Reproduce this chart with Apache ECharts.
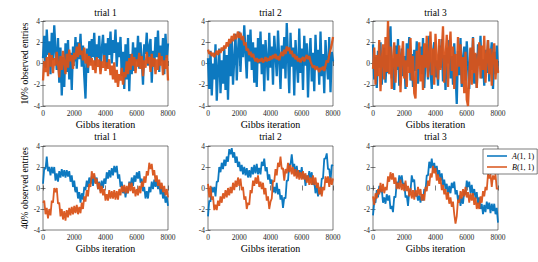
<!DOCTYPE html>
<html><head><meta charset="utf-8">
<script src="https://cdn.jsdelivr.net/npm/echarts/dist/echarts.min.js"></script>
<style>html,body{margin:0;padding:0;background:#fff}#c{width:538px;height:262px}</style>
</head><body><div id="c"></div>
<script>
// ---- data (one sample every STEP Gibbs iterations) ----
const STEP = 80;
const xTicks = [0, 2000, 4000, 6000, 8000];
const yTicks = [-4, -2, 0, 2, 4];
const rowLabels = ['10% observed entries', '40% observed entries'];
const trialTitles = ['trial 1', 'trial 2', 'trial 3'];
const xAxisTitle = 'Gibbs iteration';
const legendNames = ['A(1, 1)', 'B(1, 1)'];

const p10t1A = [0.5,2.6,-0.4,3.2,0.8,2.1,-1.0,2.9,0.3,3.6,1.2,-0.6,2.4,
 -1.8,1.5,-3.0,0.6,-2.2,1.9,-0.8,2.2,-1.5,1.0,-2.5,1.6,0.2,
 2.5,-0.5,2.0,0.4,2.8,-0.3,1.7,-1.2,-3.3,1.4,-0.9,2.1,0.1,
 2.3,0.6,2.9,-0.2,1.8,0.5,2.6,-0.6,1.3,2.7,0.2,1.9,-0.4,
 2.4,0.8,3.0,0.0,2.2,1.0,3.2,-0.3,2.0,0.6,2.5,-1.2,1.1,
 -2.4,1.8,-1.5,2.4,-2.6,0.9,-1.0,2.0,-0.7,1.5,0.2,2.6,-0.5,
 2.0,0.4,-2.0,1.8,0.9,2.9,-0.2,1.6,2.3,-1.8,1.2,-0.3,2.5,
 0.6,3.1,-0.8,1.7,0.2,2.4,-1.0,2.8,0.5,1.9];
const p10t1B = [-1.6,0.2,-0.8,0.6,-1.2,1.0,-0.3,0.8,-0.9,0.5,-0.2,1.1,0.0,
 -1.3,0.7,-0.6,1.2,0.1,-1.0,0.9,-0.4,1.3,0.2,0.8,-0.5,1.0,
 0.4,1.6,0.6,1.9,0.8,1.2,0.3,1.5,0.0,0.9,-0.4,0.7,-0.2,
 0.5,-0.6,0.3,-0.9,0.6,-0.3,0.4,-1.0,0.2,-0.4,0.8,-0.7,0.1,
 -0.5,0.4,-1.1,-0.2,-1.5,0.1,-1.8,-0.6,-2.2,-1.0,-1.6,-0.4,-2.0,
 -0.8,-1.3,0.2,-1.0,0.5,-0.6,0.9,-0.2,0.6,-0.9,0.4,-0.3,1.0,
 -0.5,0.7,-1.2,0.3,-0.4,1.1,0.0,0.6,-0.8,0.9,-0.3,0.5,-1.0,
 0.4,-0.6,1.0,-0.2,0.7,-1.1,0.3,-0.5,0.8,-1.6];
const p10t2A = [0.5,-2.4,1.2,-3.0,0.0,-1.5,1.8,-3.5,-0.6,1.4,-2.8,0.3,-1.9,
 1.6,-2.5,0.8,-3.4,1.9,-1.2,2.3,-2.0,0.4,2.8,-1.6,1.2,3.0,
 -0.8,2.5,0.6,3.6,1.0,-1.4,2.7,0.2,3.2,-0.6,2.0,-1.8,1.5,
 -2.2,2.4,0.0,3.0,-1.0,1.8,-2.6,2.2,0.4,-1.6,2.9,-0.4,1.6,
 -2.0,2.6,0.8,-1.2,3.1,0.3,-2.4,1.7,-0.5,2.5,-1.4,3.8,0.6,
 -2.8,2.9,-0.3,1.5,-3.0,2.2,0.1,-1.8,3.3,-0.9,1.4,-2.5,2.6,
 -0.2,1.9,-3.2,0.7,2.4,-1.7,1.0,-2.6,2.7,-0.5,1.3,-2.0,3.0,
 -1.2,0.9,-2.8,2.2,0.0,-1.5,2.5,-2.7,1.1,0.2];
const p10t2B = [1.3,0.9,1.1,0.7,1.0,0.6,0.9,1.2,0.8,1.3,1.0,1.5,1.2,
 1.7,1.4,2.0,1.6,2.3,1.9,2.6,2.1,2.8,2.3,2.5,3.0,2.4,
 2.9,2.2,2.6,1.7,2.0,1.2,1.4,0.8,1.1,0.6,0.9,0.5,0.2,
 0.5,0.1,0.4,0.2,0.5,0.1,0.3,0.6,0.2,0.5,0.3,0.7,0.4,
 0.8,0.5,0.9,0.4,0.7,0.3,0.8,1.1,0.7,1.3,0.9,1.6,1.2,
 1.5,0.9,1.2,0.6,0.9,0.4,0.7,0.2,0.5,0.1,0.4,0.6,0.2,
 0.5,0.8,0.4,0.7,0.2,-0.1,-0.4,-0.2,-0.6,-0.3,-0.5,-0.8,-0.4,
 -0.6,-0.3,-0.7,-0.2,0.3,0.1,0.8,1.3,1.8,2.5];
const p10t3A = [1.8,-1.5,0.6,-2.3,1.2,-0.4,2.0,-2.0,0.3,1.5,-1.8,0.8,-0.9,
 2.2,3.5,-1.4,0.5,-2.5,1.7,-0.6,2.3,-2.1,0.2,1.4,-1.2,0.7,
 -2.4,1.9,-0.3,2.5,-1.6,0.9,-2.2,1.3,-0.7,2.1,-1.9,0.4,1.6,
 -1.0,2.4,-2.3,0.6,1.8,-1.5,2.6,-0.5,-2.4,1.1,2.0,-1.3,0.3,
 -2.1,1.7,-0.4,2.3,-1.7,0.8,-2.5,1.5,0.0,2.2,-1.4,0.7,-2.0,
 1.9,-0.8,-3.8,1.2,-1.1,2.4,-2.2,0.5,1.6,-1.6,2.1,-0.3,-2.4,
 1.4,-0.6,2.5,-1.9,0.9,-2.3,1.8,-0.2,2.6,-1.4,0.4,-2.1,1.3,
 -0.9,2.2,-1.7,0.6,2.0,-2.4,1.1,-1.0,1.7,-0.8];
const p10t3B = [-0.5,1.5,-2.0,0.8,-1.2,2.2,-2.6,0.4,1.8,-1.5,2.5,-0.8,4.0,
 -1.0,1.6,-2.4,0.5,2.0,-1.8,0.9,-0.3,1.7,-2.7,0.6,2.1,-1.4,
 0.3,-2.2,1.4,-0.9,2.4,-1.6,0.7,-2.8,-3.3,1.2,-0.5,2.0,-1.7,
 0.8,-2.5,1.9,-0.4,2.6,-1.3,0.5,3.0,-1.1,1.4,-2.0,2.8,0.2,
 -1.5,2.3,-0.6,1.0,3.5,-1.8,0.4,2.7,-2.2,1.3,3.0,-0.7,1.6,
 -2.4,0.9,-1.2,2.5,-0.3,1.8,-1.9,0.6,-2.8,1.1,-3.4,-4.0,-1.3,
 1.5,-2.0,2.4,-0.9,1.0,-2.3,0.3,2.0,-1.4,1.7,-0.6,2.6,-1.8,
 0.5,2.2,-1.0,1.4,-2.1,0.8,1.9,-1.5,0.4,-0.9];
const p40t1A = [0.4,1.9,1.8,3.0,1.6,2.0,1.2,2.0,1.4,2.0,0.7,1.4,0.6,
 1.6,1.0,1.8,1.1,1.7,1.0,1.7,1.1,1.6,0.6,1.2,0.1,0.7,
 -0.4,0.1,-1.0,-0.4,-1.4,-0.5,-1.1,0.1,-0.2,0.7,0.1,1.0,0.4,
 1.1,0.2,1.2,0.5,1.0,-0.1,0.6,-0.3,0.7,0.0,0.9,0.4,1.5,
 0.9,1.7,1.0,1.9,1.2,2.1,1.5,2.1,0.9,1.3,0.1,0.6,-0.5,
 0.1,-0.9,0.0,-0.5,0.6,0.1,1.0,0.2,1.2,0.6,1.5,0.9,1.6,
 0.5,0.9,-0.3,0.1,-1.0,-0.3,-1.0,0.1,-0.4,0.6,-0.1,0.8,0.1,
 0.8,-0.1,0.5,-0.6,0.1,-1.0,-0.4,-1.4,-0.8,-1.7];
const p40t1B = [-1.4,-1.2,-2.5,-1.9,-2.9,-2.0,-2.6,-1.2,-1.4,0.0,-0.4,0.0,-1.5,
 -1.4,-2.7,-2.0,-3.0,-2.2,-3.1,-2.1,-2.8,-1.9,-2.6,-1.8,-2.5,-1.7,
 -2.4,-1.6,-2.5,-1.8,-2.4,-1.4,-2.0,-0.8,-1.3,-0.2,-0.8,0.4,0.1,
 1.6,0.9,1.4,0.4,0.9,-0.1,0.5,-0.5,0.2,-0.7,-0.1,-1.2,-0.6,
 -1.2,-0.2,-1.0,-0.3,-1.0,-0.2,-1.1,-0.3,-1.1,-0.1,-0.7,0.2,-0.4,
 0.3,-0.5,0.2,-0.5,0.5,-0.3,0.5,-0.5,0.1,-0.8,-0.1,-0.7,0.2,
 -0.5,0.6,0.1,1.1,0.5,1.6,1.2,2.4,1.8,2.3,1.2,1.7,0.6,
 1.2,0.2,0.8,-0.1,0.5,-0.4,0.2,-0.7,-0.1,-0.9];
const p40t2A = [-2.7,-1.2,-1.3,0.1,-0.4,0.1,-0.8,0.6,0.6,2.0,1.5,2.4,1.8,
 2.7,2.1,3.0,2.5,3.7,3.2,3.8,2.9,3.4,2.4,3.0,2.0,2.5,
 1.6,2.2,1.3,2.0,1.2,1.9,1.0,1.7,1.0,2.0,1.3,2.2,1.4,
 2.3,1.3,1.9,1.3,2.5,2.1,2.8,1.6,2.0,0.8,1.3,0.4,0.8,
 -0.4,0.1,-0.5,0.5,-0.6,-0.1,-1.1,-0.7,-1.9,-0.9,-1.0,0.7,0.7,
 2.3,2.2,3.2,2.0,2.3,1.2,2.1,1.1,1.7,1.1,2.0,0.9,1.3,
 0.2,1.2,0.7,1.6,0.9,1.5,0.3,0.6,-0.5,0.3,-0.8,-0.2,-0.6,
 0.9,0.9,2.8,2.8,3.3,1.8,1.8,0.6,2.2,2.1];
const p40t2B = [0.4,-0.9,0.2,-1.1,-0.8,-2.1,-1.6,-2.1,-1.2,-1.7,-0.8,-1.4,-0.5,
 -1.0,-0.2,-0.9,0.0,-0.7,0.1,-0.5,0.5,-0.2,0.7,0.1,1.0,0.2,
 0.9,-0.2,0.1,-1.1,-0.8,-2.0,-1.4,-1.6,-0.2,-0.5,0.7,0.2,1.0,
 0.4,1.2,0.1,0.6,-0.1,0.5,-0.6,0.0,-1.2,-0.8,-2.0,-1.3,-1.0,
 0.7,0.6,1.8,1.2,2.4,2.0,3.0,1.8,1.9,0.7,1.8,1.4,2.4,
 1.5,2.2,1.3,2.0,1.1,1.8,0.9,1.7,0.8,1.5,0.8,1.6,0.8,
 1.4,0.5,1.2,0.3,1.0,0.3,1.2,0.3,1.0,0.0,0.5,-0.6,0.1,
 -0.8,0.1,-0.2,1.1,0.5,1.1,0.1,1.0,0.3,0.9];
const p40t3A = [-2.6,-1.3,-1.4,-0.2,-0.9,0.2,-0.4,-0.1,-1.4,-0.9,-1.5,-0.6,-1.2,
 -0.7,-2.0,-1.7,-2.3,-0.8,-0.9,0.6,0.0,1.2,0.5,1.2,0.2,0.5,
 -0.9,-0.7,-1.7,-0.3,-0.3,1.2,0.6,0.8,-0.8,-0.5,-1.2,-0.7,-1.4,
 -0.6,-1.2,-0.1,-0.3,1.2,1.2,2.5,1.9,2.8,1.7,2.4,1.5,2.1,
 1.2,1.7,0.7,1.4,0.3,0.8,-0.1,0.4,-0.7,0.2,-0.5,0.5,0.0,
 0.6,-0.6,-0.2,-1.2,-0.7,-1.7,-0.9,-1.5,-0.3,-0.6,0.7,0.1,0.6,
 -0.5,0.3,-0.7,-0.1,-1.0,-0.4,-1.5,-0.9,-2.0,-1.5,-2.5,-1.6,-2.3,
 -1.3,-2.0,-1.4,-2.4,-1.5,-2.2,-1.5,-2.5,-1.9,-3.3];
const p40t3B = [-0.8,-1.6,-0.5,-1.0,-0.1,-0.6,0.5,-0.4,0.4,-0.5,0.1,-0.2,1.1,
 0.6,1.5,0.8,1.4,0.4,1.0,-0.1,0.5,-0.1,0.8,-0.2,0.4,-0.3,
 0.7,-0.3,0.2,-0.8,0.0,-1.0,-0.2,-1.1,-0.2,-0.8,0.1,-0.7,-0.1,
 -1.2,-0.6,-1.2,0.1,-0.3,0.7,0.2,1.4,1.0,2.1,1.4,1.9,0.7,
 1.3,0.4,1.0,-0.2,0.3,-0.6,-0.1,-1.1,-0.4,-1.5,-0.9,-1.8,-1.3,
 -2.5,-3.4,-2.7,-1.1,-1.4,-0.3,-1.0,-0.1,-0.8,0.1,-0.9,-0.4,-1.4,
 -0.5,-1.2,-0.5,-1.6,-0.9,-2.0,-1.4,-2.0,-0.8,-1.4,-0.3,-0.8,0.1,
 -0.2,1.3,0.9,1.3,0.1,1.2,0.8,1.3,-0.1,0.0];

// ---- layout ----
const panels = [
  [p10t1A, p10t1B], [p10t2A, p10t2B], [p10t3A, p10t3B],
  [p40t1A, p40t1B], [p40t2A, p40t2B], [p40t3A, p40t3B]
];
const colLeft = [43, 208, 373], plotW = 125;
const rowTop = [21, 146], rowH = [85, 84];
const titleY = [13, 137];
const lineW = [2.3, 1.8];
const BLUE = '#0072BD', ORANGE = '#D95319', AX = '#262626';
const FONT = 'Liberation Serif';

const grid = [], xAxis = [], yAxis = [], series = [], graphic = [];
panels.forEach((pair, k) => {
  const r = Math.floor(k / 3), c = k % 3;
  grid.push({left: colLeft[c], top: rowTop[r], width: plotW, height: rowH[r],
    show: true, borderColor: AX, borderWidth: 0.6, backgroundColor: '#fff'});
  const xb = {gridIndex: k, type: 'value', min: xTicks[0], max: xTicks[xTicks.length-1],
    interval: xTicks[1] - xTicks[0], splitLine: {show: false}, axisLine: {show: false},
    axisTick: {inside: true, length: 2.5, lineStyle: {color: AX, width: 0.6}}};
  const yb = {gridIndex: k, type: 'value', min: yTicks[0], max: yTicks[yTicks.length-1],
    interval: yTicks[1] - yTicks[0], splitLine: {show: false}, axisLine: {show: false},
    axisTick: {inside: true, length: 2.5, lineStyle: {color: AX, width: 0.6}}};
  xAxis.push(Object.assign({}, xb, {position: 'bottom',
    axisLabel: {fontFamily: FONT, fontSize: 7.5, color: AX, margin: 3, formatter: v => String(v)},
    name: xAxisTitle, nameLocation: 'middle', nameGap: 13,
    nameTextStyle: {fontFamily: FONT, fontSize: 10, color: '#000', fontWeight: 'normal'}}));
  xAxis.push(Object.assign({}, xb, {position: 'top', axisLabel: {show: false}}));
  yAxis.push(Object.assign({}, yb, {position: 'left',
    axisLabel: {fontFamily: FONT, fontSize: 7.5, color: AX, margin: 3},
    name: c === 0 ? rowLabels[r] : '', nameLocation: 'middle', nameGap: 10,
    nameTextStyle: {fontFamily: FONT, fontSize: 9.5, color: '#000', fontWeight: 'normal'}}));
  yAxis.push(Object.assign({}, yb, {position: 'right', axisLabel: {show: false}}));
  [[pair[0], legendNames[0], BLUE], [pair[1], legendNames[1], ORANGE]].forEach(([vals, nm, col]) => {
    series.push({type: 'line', name: nm, xAxisIndex: 2*k, yAxisIndex: 2*k,
      data: vals.map((v, i) => [i * STEP, v]), symbol: 'none', silent: true,
      lineStyle: {color: col, width: lineW[r], join: 'bevel', opacity: 0.95},
      itemStyle: {color: col}, clip: true});
  });
  graphic.push({type: 'text', x: colLeft[c] + plotW / 2, y: titleY[r],
    style: {text: trialTitles[c], font: '9.5px "Liberation Serif"', fill: '#000',
      align: 'center', verticalAlign: 'middle', textAlign: 'center', textVerticalAlign: 'middle'}});
});

const chart = echarts.init(document.getElementById('c'), null, {renderer: 'svg'});
chart.setOption({
  animation: false,
  backgroundColor: '#fff',
  grid, xAxis, yAxis, series, graphic,
  legend: {
    data: legendNames, orient: 'vertical', left: 483, top: 149,
    itemWidth: 20, itemHeight: 1.5, itemGap: 3, icon: 'rect',
    padding: [3, 3, 3, 4], borderColor: AX, borderWidth: 0.6, backgroundColor: '#fff',
    selectedMode: false,
    formatter: n => '{i|' + n.charAt(0) + '}' + n.slice(1),
    textStyle: {fontFamily: FONT, fontSize: 8, color: '#000',
      rich: {i: {fontFamily: FONT, fontSize: 8, fontStyle: 'italic', color: '#000'}}}
  }
});
</script></body></html>
